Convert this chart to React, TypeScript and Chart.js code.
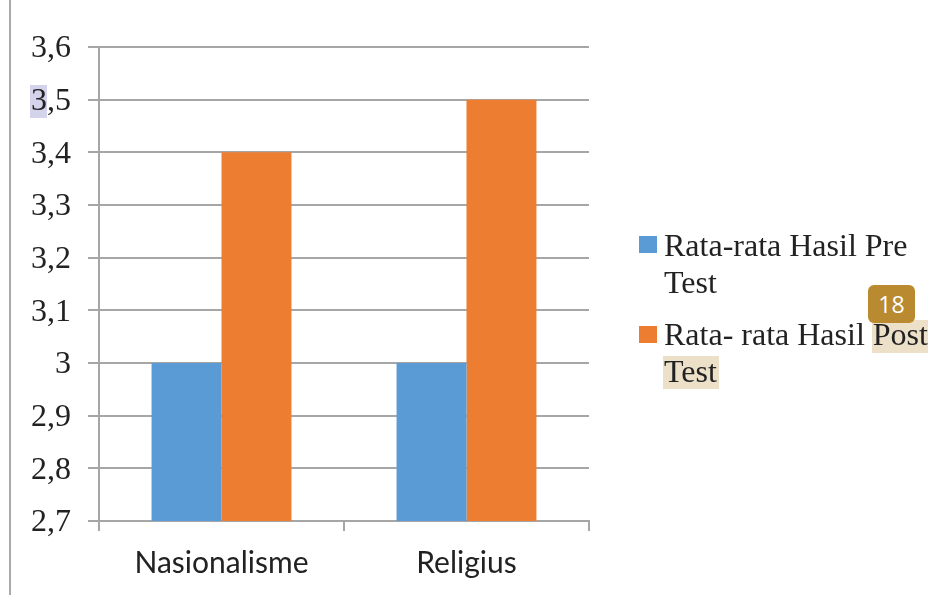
import React, { useEffect, useRef } from "react";
import { Chart, registerables } from "chart.js";

Chart.register(...registerables);

const categories = ["Nasionalisme", "Religius"];
const preValues = [3, 3];
const postValues = [3.4, 3.5];
const preName = "Rata-rata Hasil Pre Test";
const postName = "Rata- rata Hasil Post Test";
const yLabels: Record<string, string> = {
  "2.7": "2,7", "2.8": "2,8", "2.9": "2,9", "3.0": "3", "3.1": "3,1",
  "3.2": "3,2", "3.3": "3,3", "3.4": "3,4", "3.5": "3,5", "3.6": "3,6",
};
const BLUE = "#5b9bd5";
const ORANGE = "#ed7d31";
const GRID = "#a6a6a6";
const SERIF = "'Liberation Serif', serif";
const SANS = "Lato, sans-serif";
const HILITE = "#ede0c8";
const SOFT = "blur(0.5px)";

const abs = (left: number, top: number, extra: React.CSSProperties = {}): React.CSSProperties => ({
  position: "absolute", left, top, ...extra,
});

const legendText: React.CSSProperties = {
  fontFamily: SERIF, fontSize: 32, lineHeight: "37px", color: "#222", whiteSpace: "nowrap", filter: SOFT,
};

export default function App() {
  const ref = useRef<HTMLCanvasElement>(null);
  useEffect(() => {
    const chart = new Chart(ref.current!, {
      type: "bar",
      data: {
        labels: categories,
        datasets: [
          { label: preName, data: preValues, backgroundColor: BLUE },
          { label: postName, data: postValues, backgroundColor: ORANGE },
        ],
      },
      options: {
        animation: false,
        responsive: false,
        devicePixelRatio: 1,
        layout: { padding: { top: 47, right: 361, left: 0, bottom: 0 } },
        plugins: { legend: { display: false }, tooltip: { enabled: false } },
        datasets: { bar: { categoryPercentage: 0.571, barPercentage: 1 } },
        scales: {
          x: {
            afterFit: (s: any) => { s.height = 74; },
            border: { color: GRID, width: 2 },
            grid: { offset: true, drawOnChartArea: false, color: GRID, lineWidth: 2, tickLength: 10 },
            ticks: { color: "#222", font: { family: SANS, size: 30 }, padding: 14, maxRotation: 0 },
          },
          y: {
            min: 2.7,
            max: 3.6,
            afterFit: (s: any) => { s.width = 99; },
            border: { color: GRID, width: 2 },
            grid: { color: GRID, lineWidth: 2, tickLength: 11 },
            ticks: {
              stepSize: 0.1,
              color: "#222",
              font: { family: SERIF, size: 32 },
              padding: 17,
              labelOffset: 2,
              callback: (v: any) => yLabels[Number(v).toFixed(1)],
            },
          },
        },
      },
    });
    return () => chart.destroy();
  }, []);

  return (
    <div style={{ position: "absolute", left: 0, top: 0, width: 950, height: 595, background: "#fff", overflow: "hidden" }}>
      <div style={abs(9, 0, { width: 2, height: 595, background: "#aaaaaa" })} />
      <div style={abs(30, 85, { width: 17, height: 33, background: "#d4d3ec" })} />
      <div style={abs(872, 320, { width: 56, height: 33, background: HILITE })} />
      <div style={abs(663, 356, { width: 56, height: 33, background: HILITE })} />
      <canvas ref={ref} width={950} height={595} style={abs(0, 0, { display: "block", filter: SOFT })} />
      <div style={abs(639, 236, { width: 18, height: 17, background: BLUE })} />
      <div style={abs(639, 326, { width: 18, height: 17, background: ORANGE })} />
      <div style={abs(664, 227, { ...legendText })}>Rata-rata Hasil Pre<br />Test</div>
      <div style={abs(664, 316, { ...legendText })}>Rata- rata Hasil Post<br />Test</div>
      <div style={abs(868, 285, {
        width: 47, height: 38, borderRadius: 6, background: "#b98a30", color: "#fff",
        fontFamily: "'Open Sans', sans-serif", fontSize: 23, lineHeight: "38px", textAlign: "center",
      })}>18</div>
    </div>
  );
}
